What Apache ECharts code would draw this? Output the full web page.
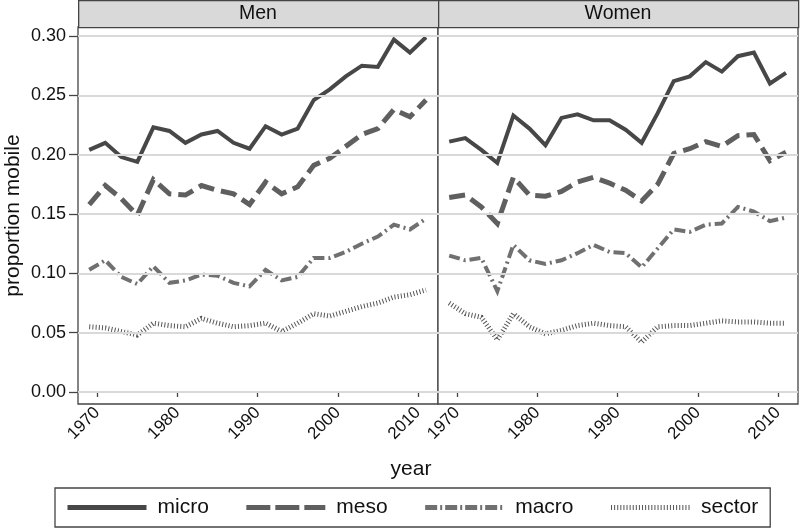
<!DOCTYPE html>
<html>
<head>
<meta charset="utf-8">
<script src="https://cdn.jsdelivr.net/npm/echarts@6/dist/echarts.min.js"></script>
<style>html,body{margin:0;padding:0;background:#fff}#c{width:800px;height:528px}</style>
</head>
<body>
<div id="c"></div>
<script>
const years = [1969,1971,1973,1975,1977,1979,1981,1983,1985,1987,1989,1991,1993,1995,1997,1999,2001,2003,2005,2007,2009,2011];

const menMicro  = [0.204,0.210,0.198,0.194,0.223,0.220,0.210,0.217,0.220,0.210,0.205,0.224,0.217,0.222,0.246,0.255,0.266,0.275,0.274,0.297,0.286,0.299];
const menMeso   = [0.158,0.174,0.163,0.149,0.179,0.167,0.166,0.174,0.170,0.167,0.158,0.177,0.167,0.173,0.191,0.197,0.207,0.217,0.222,0.238,0.232,0.246];
const menMacro  = [0.103,0.111,0.097,0.091,0.106,0.092,0.094,0.099,0.098,0.092,0.089,0.103,0.094,0.097,0.113,0.113,0.118,0.125,0.131,0.141,0.137,0.146];
const menSector = [0.055,0.054,0.051,0.048,0.058,0.056,0.055,0.062,0.058,0.055,0.056,0.058,0.051,0.058,0.066,0.064,0.068,0.072,0.075,0.080,0.082,0.086];

const womenMicro  = [0.211,0.214,0.204,0.193,0.233,0.222,0.208,0.231,0.234,0.229,0.229,0.221,0.210,0.235,0.262,0.266,0.278,0.270,0.283,0.286,0.260,0.269];
const womenMeso   = [0.164,0.166,0.156,0.142,0.181,0.166,0.165,0.169,0.177,0.181,0.176,0.170,0.161,0.175,0.201,0.205,0.211,0.207,0.216,0.217,0.195,0.202];
const womenMacro  = [0.115,0.111,0.113,0.085,0.124,0.111,0.108,0.111,0.117,0.124,0.118,0.117,0.105,0.121,0.137,0.135,0.141,0.142,0.156,0.152,0.144,0.147];
const womenSector = [0.075,0.066,0.063,0.044,0.066,0.055,0.049,0.052,0.056,0.058,0.056,0.055,0.042,0.055,0.056,0.056,0.058,0.060,0.059,0.059,0.058,0.058];

const panels = ['Men','Women'];
const seriesNames = ['micro','meso','macro','sector'];
const xTicks = [1970,1980,1990,2000,2010];
const yTicks = [0,0.05,0.10,0.15,0.20,0.25,0.30];

const FONT = '"Liberation Sans", Arial, Helvetica, sans-serif';
const styles = {
  micro:  {color:'#474747', width:4, type:'solid', legendType:'solid', legendWidth:5},
  meso:   {color:'#5f5f5f', width:5, type:[16,7], legendType:[24,5], legendWidth:5},
  macro:  {color:'#707070', width:4, type:[11,4,2,4], legendType:[12,3,2,3], legendWidth:5},
  sector: {color:'#555555', width:5, type:[1,2.2], legendType:[1,2.1], legendWidth:5}
};

const panelData = [
  {micro:menMicro, meso:menMeso, macro:menMacro, sector:menSector},
  {micro:womenMicro, meso:womenMeso, macro:womenMacro, sector:womenSector}
];

function pairs(vals){ return years.map((y,i)=>[y, vals[i]]); }

const grids = [
  {left:78, top:27, width:360, height:377, show:true, borderColor:'#444', borderWidth:1.3, backgroundColor:'#fff'},
  {left:438, top:27, width:360, height:377, show:true, borderColor:'#444', borderWidth:1.3, backgroundColor:'#fff'}
];

const xAxes = [0,1].map(i=>({
  type:'value', gridIndex:i, min:1967.6, max:2012.5,
  axisLine:{show:false},
  splitLine:{show:false},
  axisTick:{show:true, length:5, lineStyle:{color:'#444', width:1.3}, customValues:xTicks},
  axisLabel:{rotate:45, fontSize:17, color:'#111', fontFamily:FONT, margin:6, customValues:xTicks, formatter:v=>String(v)}
}));

const yAxes = [0,1].map(i=>({
  type:'value', gridIndex:i, min:-0.0101, max:0.3076,
  axisLine:{show:false},
  splitLine:{show:false},
  axisTick:{show:i===0, length:9, lineStyle:{color:'#444', width:1.3}, customValues:yTicks},
  axisLabel:{show:i===0, fontSize:18, color:'#111', fontFamily:FONT, margin:12, customValues:yTicks, formatter:v=>v.toFixed(2)},
  name: i===0 ? 'proportion mobile' : '',
  nameLocation:'middle', nameGap:54,
  nameTextStyle:{fontSize:21, color:'#111', fontFamily:FONT}
}));

const series = [];
[0,1].forEach(p=>{
  series.push({
    name:'_grid', type:'line', xAxisIndex:p, yAxisIndex:p, data:[], silent:true, z:1,
    markLine:{silent:true, symbol:['none','none'], label:{show:false},
      lineStyle:{type:'solid', color:'#d9d9d9', width:2},
      animation:false,
      data: yTicks.map(v=>({yAxis:v}))}
  });
  seriesNames.forEach(n=>{
    series.push({
      name:n, type:'line', xAxisIndex:p, yAxisIndex:p, z:3,
      data:pairs(panelData[p][n]),
      symbol:'none', showSymbol:false, smooth:false,
      lineStyle:{color:styles[n].color, width:styles[n].width, type:styles[n].type, cap:'butt', join:'miter'},
      itemStyle:{color:styles[n].color},
      animation:false
    });
  });
});

const graphic = [];
panels.forEach((t,i)=>{
  graphic.push({type:'rect', left:78+360*i, top:0, shape:{width:360, height:27},
    style:{fill:'#d9d9d9', stroke:'#444', lineWidth:1.3}, z:10});
  graphic.push({type:'text', x:258+360*i, y:14, z:11,
    style:{text:t, fontSize:19.5, fontFamily:FONT, fill:'#111', textAlign:'center', textVerticalAlign:'middle'}});
});
graphic.push({type:'text', x:411, y:469, z:11,
  style:{text:'year', fontSize:21, fontFamily:FONT, fill:'#111', textAlign:'center', textVerticalAlign:'middle'}});

const chart = echarts.init(document.getElementById('c'), null, {renderer:'canvas'});
chart.setOption({
  animation:false,
  backgroundColor:'#fff',
  grid:grids,
  xAxis:xAxes,
  yAxis:yAxes,
  legend:{
    data:seriesNames.map(n=>({name:n,
      itemStyle:{opacity:0},
      lineStyle:{color:styles[n].color, width:styles[n].legendWidth, type:styles[n].legendType, cap:'butt'}})),
    left:55, top:488, orient:'horizontal',
    itemWidth:79, itemHeight:14, itemGap:35,
    itemStyle:{opacity:0},
    padding:[9,12,9,10], borderColor:'#444', borderWidth:1.3,
    textStyle:{fontSize:21, color:'#111', fontFamily:FONT, padding:[0,0,0,6]},
    selectedMode:false
  },
  graphic:graphic,
  series:series
});
</script>
</body>
</html>
